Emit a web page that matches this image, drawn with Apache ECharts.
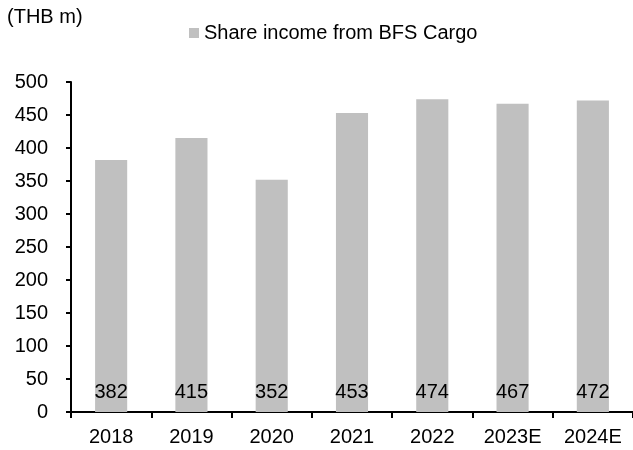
<!DOCTYPE html>
<html>
<head>
<meta charset="utf-8">
<script src="https://cdn.jsdelivr.net/npm/echarts@6/dist/echarts.min.js"></script>
<style>html,body{margin:0;padding:0;background:#fff}#c{width:633px;height:450px}</style>
</head>
<body>
<div id="c"></div>
<script>
var categories = ['2018', '2019', '2020', '2021', '2022', '2023E', '2024E'];
var shareIncome = [382, 415, 352, 453, 474, 467, 472];
var seriesName = 'Share income from BFS Cargo';
var unitLabel = '(THB m)';

var FONT = '"Liberation Sans", Arial, sans-serif';
var chart = echarts.init(document.getElementById('c'));
chart.setOption({
  animation: false,
  backgroundColor: '#fff',
  title: {
    text: unitLabel, left: 7, top: 7, padding: 0,
    textStyle: { fontFamily: FONT, fontSize: 20, fontWeight: 'normal', color: '#000', lineHeight: 20 }
  },
  legend: {
    left: 189, top: 23, padding: 0, itemWidth: 10, itemHeight: 10, itemGap: 5,
    icon: 'rect',
    textStyle: { fontFamily: FONT, fontSize: 20, color: '#000', lineHeight: 20, padding: [0, 0, 0, 0] },
    data: [seriesName]
  },
  grid: { left: 71, right: -1, top: 82, bottom: 38, containLabel: false },
  xAxis: {
    type: 'category', data: categories,
    axisLine: { lineStyle: { color: '#000', width: 2 } },
    axisTick: { show: true, length: 6, alignWithLabel: false, lineStyle: { color: '#000', width: 2 } },
    axisLabel: { fontFamily: FONT, fontSize: 20, color: '#000', margin: 15 }
  },
  yAxis: {
    type: 'value', min: 0, max: 500, interval: 50,
    splitLine: { show: false },
    axisLine: { show: true, lineStyle: { color: '#000', width: 2 } },
    axisTick: { show: true, length: 5, lineStyle: { color: '#000', width: 2 } },
    axisLabel: { fontFamily: FONT, fontSize: 20, color: '#000', margin: 23 }
  },
  series: [{
    name: seriesName, type: 'bar', data: shareIncome, barWidth: '40%',
    itemStyle: { color: '#c0c0c0' },
    label: {
      show: true, position: 'insideBottom', distance: 10,
      fontFamily: FONT, fontSize: 20, color: '#000'
    }
  }]
});
</script>
</body>
</html>
